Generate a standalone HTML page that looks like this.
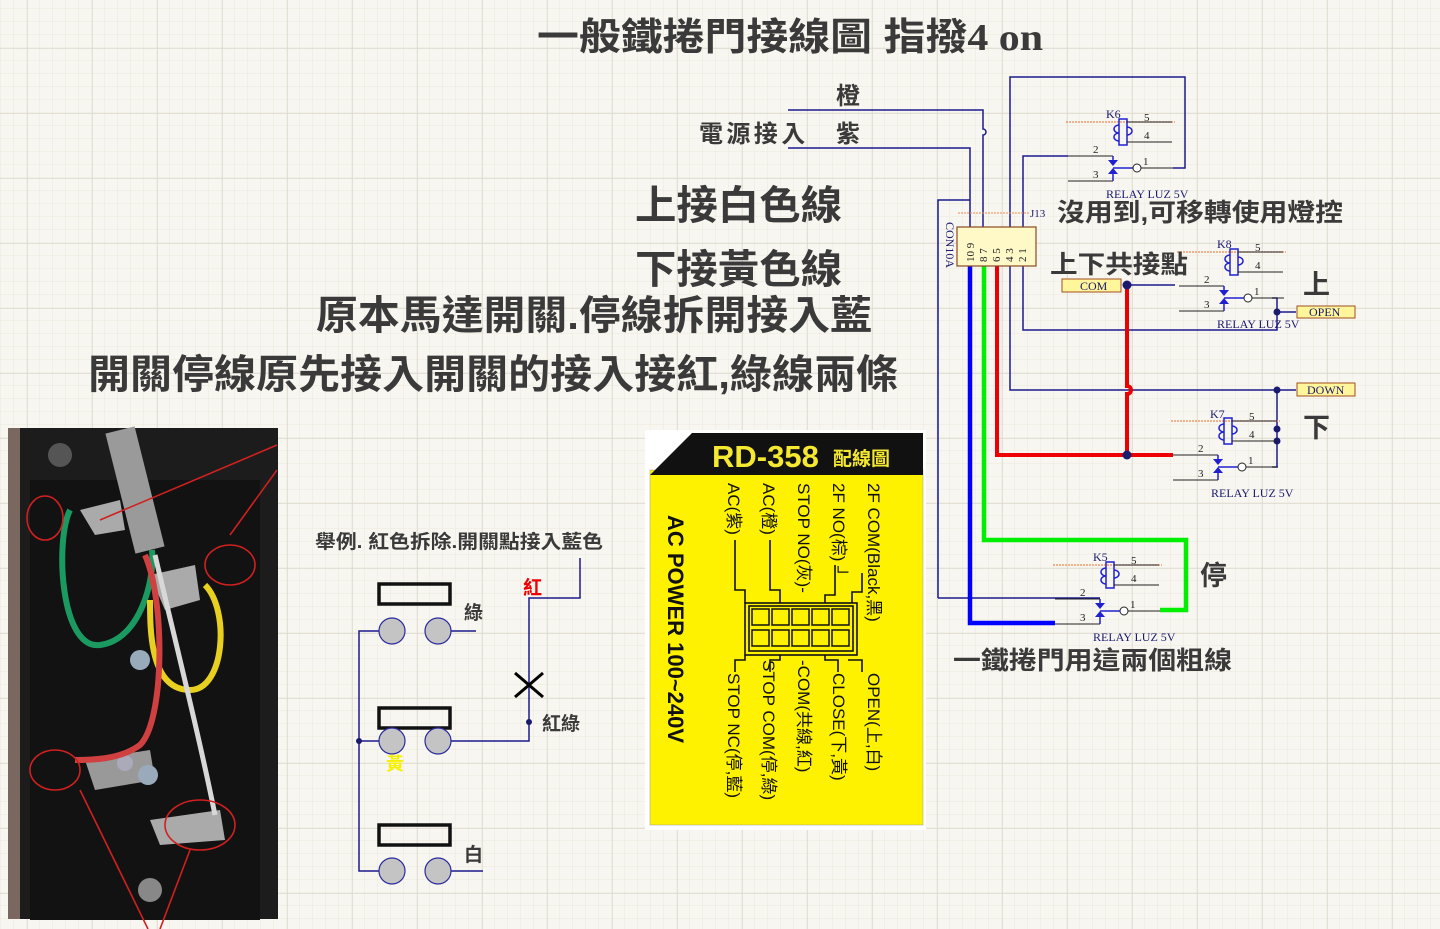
<!DOCTYPE html>
<html><head><meta charset="utf-8"><style>
html,body{margin:0;padding:0;width:1440px;height:929px;overflow:hidden;background:#f8f6f0}
svg{display:block}
.t{font-family:"Liberation Sans","Noto Sans CJK TC",sans-serif;fill:#3a3a3a;font-weight:bold}
.s{font-family:"Liberation Serif",serif;fill:#1a1a6e}
.n{font-family:"Liberation Serif",serif;fill:#222;font-size:11px}
</style></head><body>
<svg width="1440" height="929" viewBox="0 0 1440 929" xmlns="http://www.w3.org/2000/svg">
<defs>
<pattern id="mn" width="13" height="13" patternUnits="userSpaceOnUse" x="1" y="9"><path d="M13 0V13M0 13H13" stroke="#ece8de" stroke-width="1" fill="none"/></pattern>
<pattern id="mj" width="65" height="65" patternUnits="userSpaceOnUse" x="27" y="48"><path d="M0 0V65M0 0H65" stroke="#dcd8cf" stroke-width="1.5" fill="none"/></pattern>
<g id="relay">
 <line x1="-57" y1="0" x2="52" y2="0" stroke="#f08a50" stroke-width="1.2" stroke-dasharray="2,1"/>
 <rect x="-4" y="-3" width="8" height="26" fill="none" stroke="#2020d0" stroke-width="1.5"/>
 <path d="M-4 3 a5 4 0 1 0 0 8 M-4 11 a5 4 0 1 0 0 8" fill="none" stroke="#2020d0" stroke-width="1.5"/>
 <path d="M4 5a5 4 0 1 1 0 8" fill="none" stroke="#2020d0" stroke-width="1.5"/>
 <line x1="4" y1="0" x2="49" y2="0" stroke="#222"/>
 <line x1="4" y1="20" x2="49" y2="20" stroke="#222"/>
 <text class="n" x="21" y="-1">5</text><text class="n" x="21" y="17">4</text>
 <line x1="-55" y1="34" x2="-10" y2="34" stroke="#222"/>
 <line x1="-55" y1="59" x2="-10" y2="59" stroke="#222"/>
 <path d="M-10 34V38M-10 59V52" stroke="#2020d0" stroke-width="1.5"/>
 <path d="M-15 38h10l-5 6z M-15 52h10l-5 -6z" fill="#2020d0"/>
 <line x1="-10" y1="46" x2="10" y2="46" stroke="#2020d0" stroke-width="1.5"/>
 <circle cx="14" cy="46" r="4" fill="#fff" stroke="#222"/>
 <line x1="18" y1="46" x2="50" y2="46" stroke="#222"/>
 <text class="n" x="-30" y="31">2</text><text class="n" x="-30" y="56">3</text><text class="n" x="20" y="43">1</text>
 <text class="s" x="-17" y="76" font-size="12">RELAY LUZ 5V</text>
</g>
</defs>
<rect width="1440" height="929" fill="#f8f6f0"/>
<rect width="1440" height="929" fill="url(#mn)"/>
<rect width="1440" height="929" fill="url(#mj)"/>

<!-- Title -->
<text class="t" x="537" y="50" font-size="38" textLength="506" lengthAdjust="spacingAndGlyphs">一般鐵捲門接線圖 指撥<tspan font-family="Liberation Serif">4 on</tspan></text>
<text class="t" x="836" y="104" font-size="24">橙</text>
<text class="t" x="699" y="142" font-size="24" textLength="161" lengthAdjust="spacing">電源接入　紫</text>
<text class="t" x="635" y="219" font-size="40" textLength="207" lengthAdjust="spacingAndGlyphs">上接白色線</text>
<text class="t" x="635" y="283" font-size="40" textLength="207" lengthAdjust="spacingAndGlyphs">下接黃色線</text>
<text class="t" x="316" y="329" font-size="40" textLength="556" lengthAdjust="spacingAndGlyphs">原本馬達開關.停線拆開接入藍</text>
<text class="t" x="88" y="388" font-size="40" textLength="810" lengthAdjust="spacingAndGlyphs">開關停線原先接入開關的接入接紅,綠線兩條</text>

<!-- schematic thin wires -->
<g stroke="#1a1a8c" stroke-width="1.5" fill="none">
 <path d="M788 110H983V129a3 3 0 0 1 0 6V227"/>
 <path d="M788 148H970V227"/>
 <path d="M938 598V200H970"/>
 <path d="M938 598H1100"/>
 <path d="M1010 227V77H1185V168H1173"/>
 <path d="M1023 227V156H1068"/>
 <path d="M1010 266V390H1296"/>
 <path d="M1023 266V330H1277V298H1272"/>
 <path d="M1277 312H1296"/>
 <path d="M1277 390V467H1272"/>
 <path d="M1127 285H1175"/>
</g>
<g fill="#1a1a6e"><circle cx="1277" cy="390" r="3.5"/><circle cx="1277" cy="429" r="3.5"/><circle cx="1277" cy="441" r="3.5"/><circle cx="1277" cy="312" r="3.5"/></g>

<!-- thick wires -->
<path d="M970 266V623H1055" stroke="#0000ff" stroke-width="4.5" fill="none"/>
<path d="M984 266V540H1186V610H1160" stroke="#00ee00" stroke-width="4.5" fill="none"/>
<path d="M997 266V455H1173" stroke="#ee0000" stroke-width="4" fill="none"/>
<path d="M1127 285V386a4 4 0 0 1 0 8V455" stroke="#ee0000" stroke-width="4" fill="none"/>
<circle cx="1127" cy="285" r="4.5" fill="#1a1a6e"/><circle cx="1127" cy="455" r="4.5" fill="#1a1a6e"/>

<!-- connector J13 -->
<line x1="958" y1="213" x2="1030" y2="213" stroke="#f08a50" stroke-dasharray="2,1"/>
<rect x="957" y="227" width="79" height="39" fill="#fff9c8" stroke="#8a4a20" stroke-width="1.2"/>
<text class="s" x="1030" y="217" font-size="11">J13</text>
<text class="s" font-size="12" transform="translate(946,222) rotate(90)">CON10A</text>
<g class="n" font-size="11">
<text transform="translate(974,262) rotate(-90)">10 9</text>
<text transform="translate(987,262) rotate(-90)">8 7</text>
<text transform="translate(1000,262) rotate(-90)">6 5</text>
<text transform="translate(1013,262) rotate(-90)">4 3</text>
<text transform="translate(1026,262) rotate(-90)">2 1</text>
</g>

<!-- relays -->
<use href="#relay" x="1123" y="122"/><text class="s" x="1106" y="118" font-size="12">K6</text>
<use href="#relay" x="1234" y="252"/><text class="s" x="1217" y="248" font-size="12">K8</text>
<use href="#relay" x="1228" y="421"/><text class="s" x="1210" y="418" font-size="12">K7</text>
<use href="#relay" x="1110" y="565"/><text class="s" x="1093" y="561" font-size="12">K5</text>

<!-- labels -->
<rect x="1062" y="279" width="59" height="13" fill="#fff59a" stroke="#a05020"/><text class="s" x="1080" y="290" font-size="12" fill="#222">COM</text>
<rect x="1297" y="306" width="58" height="12" fill="#fff59a" stroke="#a05020"/><text class="s" x="1309" y="316" font-size="12" fill="#222">OPEN</text>
<rect x="1297" y="383" width="58" height="13" fill="#fff59a" stroke="#a05020"/><text class="s" x="1307" y="394" font-size="12" fill="#222">DOWN</text>

<text class="t" x="1057" y="221" font-size="25" textLength="286" lengthAdjust="spacingAndGlyphs">沒用到,可移轉使用燈控</text>
<text class="t" x="1050" y="273" font-size="25" textLength="138" lengthAdjust="spacingAndGlyphs">上下共接點</text>
<text class="t" x="1303" y="294" font-size="27">上</text>
<text class="t" x="1303" y="437" font-size="27">下</text>
<text class="t" x="1200" y="585" font-size="27">停</text>
<text class="t" x="953" y="669" font-size="25" textLength="279" lengthAdjust="spacingAndGlyphs">一鐵捲門用這兩個粗線</text>

<!-- switch diagram -->
<text class="t" x="315" y="548" font-size="19" textLength="288" lengthAdjust="spacingAndGlyphs">舉例. 紅色拆除.開關點接入藍色</text>
<g fill="none" stroke="#111" stroke-width="3.5">
<rect x="379" y="584" width="71" height="20"/><rect x="379" y="708" width="71" height="20"/><rect x="379" y="825" width="71" height="20"/>
</g>
<g stroke="#1a1a8c" stroke-width="1.5" fill="none">
<path d="M379 631H359V871H379M359 741H379"/>
<path d="M451 631H476M451 871H483"/>
<path d="M451 741H529V598H580V558"/>
</g>
<circle cx="359" cy="741" r="3" fill="#1a1a6e"/><circle cx="529" cy="722" r="3" fill="#1a1a6e"/>
<g fill="#c4c4c4" stroke="#2a2aa0" stroke-width="1.2">
<circle cx="392" cy="631" r="13"/><circle cx="438" cy="631" r="13"/>
<circle cx="392" cy="741" r="13"/><circle cx="438" cy="741" r="13"/>
<circle cx="392" cy="871" r="13"/><circle cx="438" cy="871" r="13"/>
</g>
<path d="M515 673L543 697M543 673L515 697" stroke="#000" stroke-width="3"/>
<text class="t" x="523" y="594" font-size="19" style="fill:#e00">紅</text>
<text class="t" x="542" y="730" font-size="19">紅綠</text>
<text class="t" x="464" y="619" font-size="19">綠</text>
<text class="t" x="464" y="861" font-size="19">白</text>
<text class="t" x="386" y="770" font-size="18" style="fill:#f5f000">黃</text>

<!-- yellow card -->
<rect x="645" y="430" width="281" height="400" fill="#fff"/>
<rect x="650" y="470" width="273" height="355" fill="#fff200" stroke="#999" stroke-width="0.5"/>
<polygon points="650,475 692,433 923,433 923,475" fill="#111"/>
<text x="712" y="467" font-family="Liberation Sans,sans-serif" font-weight="bold" font-size="31" fill="#f5e830">RD-358</text>
<text x="833" y="465" font-family="Liberation Sans,Noto Sans CJK TC,sans-serif" font-weight="bold" font-size="19" fill="#f5e830">配線圖</text>
<g font-family="Liberation Sans,Noto Sans CJK TC,sans-serif" font-size="17" fill="#111">
<text transform="translate(868,483) rotate(90)">2F COM(Black,黑)</text>
<text transform="translate(833,483) rotate(90)">2F NO(棕) ┘</text>
<text transform="translate(798,483) rotate(90)">STOP NO(灰)-</text>
<text transform="translate(763,483) rotate(90)">AC(橙)</text>
<text transform="translate(728,483) rotate(90)">AC(紫)</text>
<text transform="translate(868,673) rotate(90)">OPEN(上,白)</text>
<text transform="translate(833,673) rotate(90)">CLOSE(下,黃)</text>
<text transform="translate(798,660) rotate(90)">-COM(共線,紅)</text>
<text transform="translate(763,660) rotate(90)">STOP COM(停,綠)</text>
<text transform="translate(728,673) rotate(90)">STOP NC(停,藍)</text>
<text transform="translate(668,515) rotate(90)" font-weight="bold" font-size="22">AC POWER 100~240V</text>
</g>
<g fill="none" stroke="#111" stroke-width="1.6">
<path d="M735 540V590H745V603M770 540V590H780V603M862 573V592H852V603M835 565V595H825V603"/>
<path d="M735 672V660H745V655M770 672V660H780V655M848 660H862V672M825 655V660H838V672"/>
<rect x="745" y="603" width="112" height="52"/>
<rect x="749" y="606" width="104" height="45"/>
</g>
<g fill="none" stroke="#111" stroke-width="1.5">
<rect x="752" y="609" width="17" height="16"/><rect x="772" y="609" width="17" height="16"/><rect x="792" y="609" width="17" height="16"/><rect x="812" y="609" width="17" height="16"/><rect x="832" y="609" width="17" height="16"/>
<rect x="752" y="630" width="17" height="16"/><rect x="772" y="630" width="17" height="16"/><rect x="792" y="630" width="17" height="16"/><rect x="812" y="630" width="17" height="16"/><rect x="832" y="630" width="17" height="16"/>
</g>

<!-- photo -->
<rect x="8" y="428" width="270" height="491" fill="#1c1c1c"/>
<rect x="8" y="428" width="12" height="491" fill="#7a6860"/>
<rect x="30" y="480" width="230" height="440" fill="#121212"/>
<circle cx="60" cy="455" r="12" fill="#555"/>
<circle cx="150" cy="890" r="12" fill="#888"/>
<path d="M120 430L150 550" stroke="#9a9a9a" stroke-width="30" fill="none"/>
<path d="M80 510L120 500 125 530 95 535Z" fill="#aaa"/>
<path d="M150 575L195 565 200 600 165 610Z" fill="#aaa"/>
<path d="M85 760L150 750 155 780 95 790Z" fill="#999"/>
<path d="M150 820L220 810 225 840 160 845Z" fill="#aaa"/>
<circle cx="140" cy="660" r="10" fill="#9ab"/><circle cx="148" cy="775" r="10" fill="#9ab"/><circle cx="125" cy="763" r="8" fill="#aab"/>
<path d="M70 510C55 540 60 650 100 645 140 640 155 580 152 550" stroke="#1a9a60" stroke-width="6" fill="none"/>
<path d="M205 585C230 610 225 690 190 690 150 690 150 630 150 600" stroke="#e8d020" stroke-width="6" fill="none"/>
<path d="M145 555C165 600 165 720 140 745 120 760 90 760 75 760" stroke="#d04040" stroke-width="6" fill="none"/>
<path d="M155 555C175 640 200 740 215 815" stroke="#d8d8d8" stroke-width="5" fill="none"/>
<g stroke="#d02020" stroke-width="1.6" fill="none">
<ellipse cx="45" cy="518" rx="18" ry="22"/><ellipse cx="230" cy="565" rx="25" ry="20"/>
<ellipse cx="55" cy="770" rx="25" ry="20"/><ellipse cx="200" cy="825" rx="35" ry="25"/>
<path d="M100 520L277 445M230 535L277 470M80 790L148 929M190 850L160 929"/>
</g>
</svg>
</body></html>
